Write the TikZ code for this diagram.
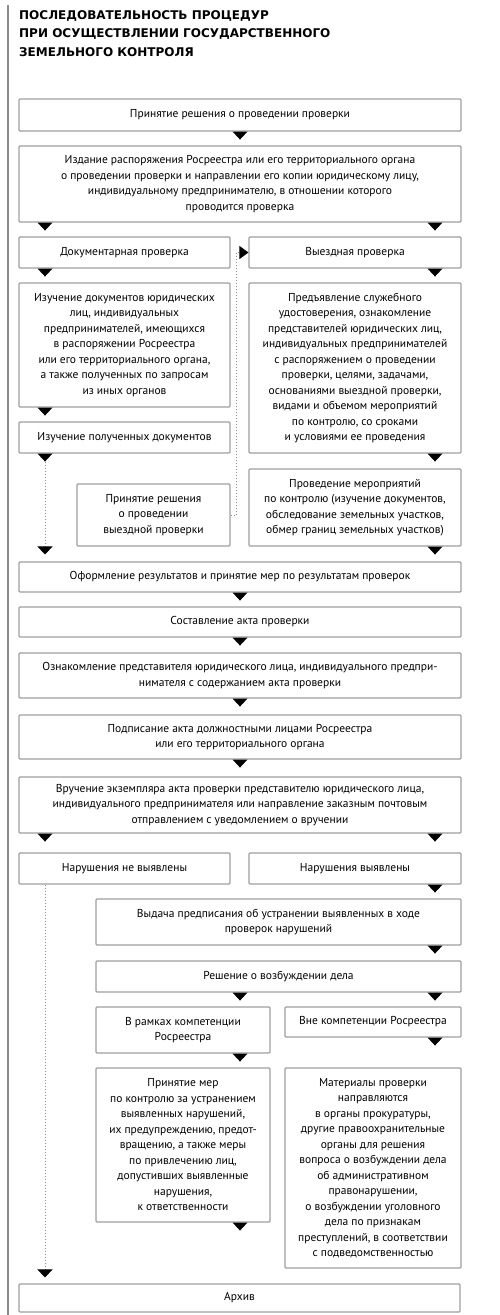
\documentclass[tikz,border=0pt]{standalone}
\usepackage{fontspec}
\setmainfont{PT Sans}
\newfontfamily\titlefont{DejaVu Sans}
\usetikzlibrary{arrows.meta,calc}
\tikzset{
  box/.style={draw=black!38, line width=1.1pt, rounded corners=1pt, inner sep=0pt,
    align=center, font=\fontsize{11.5}{15.5}\selectfont, text=black},
  dotline/.style={draw=black!45, line width=1pt, dotted},
  tipdown/.style={-{Triangle[width=15pt,length=8pt,color=black,fill=black]}},
  tipright/.style={-{Triangle[width=13pt,length=9pt,color=black,fill=black]}},
}
\newcommand\bx[6]{\node[box, minimum width={(#4-#2)*1pt}, minimum height={(#5-#3)*1pt}] (#1) at ({(#2+#4)/2},{(#3+#5)/2}) {#6};}
\newcommand\tri[1]{\fill #1 ++(-7.5,0) -- ++(15,0) -- ++(-7.5,8) -- cycle;}
\begin{document}
\begin{tikzpicture}[x=1pt,y=-1pt]
\useasboundingbox (0,0) rectangle (500,1315);
\coordinate (cl) at (45,0);
\coordinate (cc) at (240,0);
\coordinate (cr) at (435,0);
\coordinate (lt) at (8,5);
\coordinate (lb) at (8,1315);
\draw[black!45, line width=1.6pt] (lt) -- (lb);

\node[anchor=north west, align=left, inner sep=0pt,
  font=\titlefont\bfseries\fontsize{12}{18.5}\selectfont] (title) at (19,10)
  {ПОСЛЕДОВАТЕЛЬНОСТЬ ПРОЦЕДУР\\ПРИ ОСУЩЕСТВЛЕНИИ ГОСУДАРСТВЕННОГО\\ЗЕМЕЛЬНОГО КОНТРОЛЯ};

\bx{b1}{19}{99}{461}{131}{Принятие решения о проведении проверки}
\bx{b2}{19}{146}{461}{222}{Издание распоряжения Росреестра или его территориального органа\\о проведении проверки и направлении его копии юридическому лицу,\\индивидуальному предпринимателю, в отношении которого\\проводится проверка}
\bx{bd}{19}{237}{230}{268}{Документарная проверка}
\bx{bv}{249}{237}{461}{268}{Выездная проверка}
\bx{bi}{19}{283}{230}{407}{Изучение документов юридических\\лиц, индивидуальных\\предпринимателей, имеющихся\\в распоряжении Росреестра\\или его территориального органа,\\а также полученных по запросам\\из иных органов}
\bx{bp}{249}{283}{461}{453}{Предъявление служебного\\удостоверения, ознакомление\\представителей юридических лиц,\\индивидуальных предпринимателей\\с распоряжением о проведении\\проверки, целями, задачами,\\основаниями выездной проверки,\\видами и объемом мероприятий\\по контролю, со сроками\\и условиями ее проведения}
\bx{bg}{19}{422}{230}{453}{Изучение полученных документов}
\bx{bm}{249}{469}{461}{546}{Проведение мероприятий\\по контролю (изучение документов,\\обследование земельных участков,\\обмер границ земельных участков)}
\bx{br}{77}{484}{230}{546}{Принятие решения\\о проведении\\выездной проверки}
\bx{bo}{19}{562}{461}{592}{Оформление результатов и принятие мер по результатам проверок}
\bx{bs}{19}{607}{461}{637}{Составление акта проверки}
\bx{bz}{19}{653}{461}{698}{Ознакомление представителя юридического лица, индивидуального предпри-\\нимателя с содержанием акта проверки}
\bx{bpod}{19}{715}{461}{759}{Подписание акта должностными лицами Росреестра\\или его территориального органа}
\bx{bvr}{19}{777}{461}{833}{Вручение экземпляра акта проверки представителю юридического лица,\\индивидуального предпринимателя или направление заказным почтовым\\отправлением с уведомлением о вручении}
\bx{bn}{19}{853}{230}{884}{Нарушения не выявлены}
\bx{by}{249}{853}{461}{884}{Нарушения выявлены}
\bx{bvy}{96}{899}{461}{945}{Выдача предписания об устранении выявленных в ходе\\проверок нарушений}
\bx{bre}{96}{961}{461}{992}{Решение о возбуждении дела}
\bx{bra}{96}{1007}{270}{1053}{В рамках компетенции\\Росреестра}
\bx{bvne}{285}{1007}{461}{1037}{Вне компетенции Росреестра}
\bx{bpm}{96}{1068}{270}{1222}{Принятие мер\\по контролю за устранением\\выявленных нарушений,\\их предупреждению, предот-\\вращению, а также меры\\по привлечению лиц,\\допустивших выявленные\\нарушения,\\к ответственности}
\bx{bmat}{285}{1068}{461}{1268}{Материалы проверки\\направляются\\в органы прокуратуры,\\другие правоохранительные\\органы для решения\\вопроса о возбуждении дела\\об административном\\правонарушении,\\о возбуждении уголовного\\дела по признакам\\преступлений, в соответствии\\с подведомственностью}
\bx{bar}{19}{1284}{460}{1312}{Архив}

% solid triangle connectors
\tri{(b1.south -| cc)}
\tri{(b2.south -| cl)}
\tri{(b2.south -| cr)}
\tri{(bd.south -| cl)}
\tri{(bv.south -| cr)}
\tri{(bi.south -| cl)}
\tri{(bg.south -| cl)}
\tri{(bp.south -| cr)}
\tri{(bm.south -| cr)}
\tri{(bo.south -| cc)}
\tri{(bs.south -| cc)}
\tri{(bz.south -| cc)}
\tri{(bpod.south -| cc)}
\tri{(bvr.south -| cl)}
\tri{(bvr.south -| cr)}
\tri{(by.south -| cr)}
\tri{(bvy.south -| cr)}
\tri{(bre.south -| cc)}
\tri{(bre.south -| cr)}
\tri{(bvne.south -| cr)}
\tri{(bra.south -| cc)}
\tri{(bpm.south -| cc)}

% dotted connectors
\draw[dotline, tipdown, shorten >=7pt] ($(bg.south -| cl)+(0,8)$) -- (bo.north -| cl);
\draw[dotline, tipdown, shorten >=6pt] (bn.south -| cl) -- (bar.north -| cl);
\draw[dotline, tipright] (br.east) -- ++(6,0) |- (bv.west);
\end{tikzpicture}
\end{document}
